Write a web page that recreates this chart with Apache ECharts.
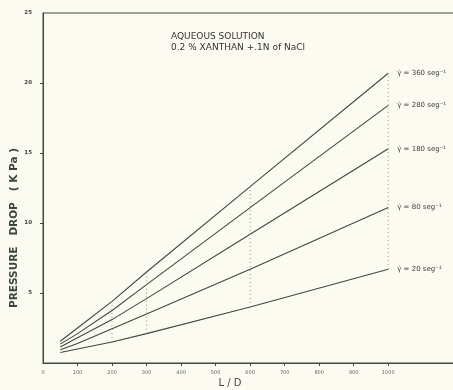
<!DOCTYPE html>
<html><head><meta charset="utf-8">
<script src="https://cdn.jsdelivr.net/npm/echarts@6/dist/echarts.min.js"></script>
<style>html,body{margin:0;padding:0;background:#fbfbf1;}#c{width:453px;height:390px;}</style>
</head><body><div id="c"></div>
<script>
var ldValues = [50, 100, 200, 300, 600, 1000];
var rate360 = [1.55, 2.5, 4.4, 6.5, 12.6, 20.7];
var rate280 = [1.35, 2.1, 3.75, 5.6, 11.1, 18.4];
var rate180 = [1.15, 1.8, 3.1, 4.6, 9.2, 15.3];
var rate80 = [0.95, 1.4, 2.45, 3.5, 6.7, 11.1];
var rate20 = [0.75, 1.0, 1.5, 2.1, 4.0, 6.7];
var seriesNames = ['γ̇ = 360 seg⁻¹', 'γ̇ = 280 seg⁻¹', 'γ̇ = 180 seg⁻¹', 'γ̇ = 80 seg⁻¹', 'γ̇ = 20 seg⁻¹'];
var dottedAt = [200, 300, 600, 1000];
var xTicks = [0, 100, 200, 300, 400, 500, 600, 700, 800, 900, 1000];
var yTicks = [5, 10, 15, 20, 25];

var allRates = [rate360, rate280, rate180, rate80, rate20];
var ink = '#3d4a3f';
var series = [];
allRates.forEach(function (arr, i) {
  series.push({
    type: 'line', name: seriesNames[i], symbol: 'none', silent: true,
    lineStyle: { color: ink, width: 1.1 },
    data: ldValues.map(function (x, j) { return [x, arr[j]]; }),
    endLabel: { show: true, formatter: seriesNames[i], distance: 9, fontSize: 7,
      color: '#444', fontFamily: 'DejaVu Sans' }
  });
});
dottedAt.forEach(function (x) {
  var j = ldValues.indexOf(x);
  var vals = allRates.map(function (a) { return a[j]; });
  series.push({
    type: 'line', symbol: 'none', silent: true,
    lineStyle: { color: '#8a948a', width: 1, type: [1, 3] },
    data: [[x, Math.min.apply(null, vals)], [x, Math.max.apply(null, vals)]]
  });
});

var xMaxTick = xTicks[xTicks.length - 1];
var chart = echarts.init(document.getElementById('c'), null, { renderer: 'canvas' });
chart.setOption({
  backgroundColor: '#fbfbf1',
  animation: false,
  grid: { left: 43, top: 13, right: -6, bottom: 27, show: true, borderColor: ink, borderWidth: 1,
    backgroundColor: 'transparent', containLabel: false, outerBoundsMode: 'none' },
  xAxis: {
    type: 'value', min: 0, max: 1205, interval: 100,
    splitLine: { show: false },
    axisLine: { show: true, lineStyle: { color: ink, width: 1 } },
    axisTick: { show: true, customValues: xTicks.slice(1), length: 3, lineStyle: { color: ink } },
    axisLabel: { fontSize: 5, color: '#666', margin: 7, fontFamily: 'DejaVu Sans', showMaxLabel: false,
      formatter: function (v) { return v > xMaxTick ? '' : String(v); } }
  },
  yAxis: {
    type: 'value', min: 0, max: 25, interval: 5,
    splitLine: { show: false },
    axisLine: { show: true, lineStyle: { color: ink, width: 1 } },
    axisTick: { show: true, customValues: [5, 10, 15, 20], length: 3, lineStyle: { color: ink } },
    axisLabel: { customValues: yTicks, fontSize: 5.5, fontWeight: 'bold', color: '#444', margin: 11, fontFamily: 'DejaVu Sans' }
  },
  graphic: [
    { type: 'text', left: 171, top: 32, style: { text: 'AQUEOUS SOLUTION', fontSize: 9, fill: '#333', fontFamily: 'DejaVu Sans' } },
    { type: 'text', left: 171, top: 43, style: { text: '0.2 % XANTHAN +.1N of NaCl', fontSize: 9, fill: '#333', fontFamily: 'DejaVu Sans' } },
    { type: 'text', x: 230, y: 383, style: { text: 'L / D', fontSize: 10, fill: '#444', align: 'center', verticalAlign: 'middle', fontFamily: 'DejaVu Sans' } },
    { type: 'text', x: 14, y: 228, rotation: Math.PI / 2,
      style: { text: 'PRESSURE   DROP   ( K Pa )', fontSize: 10.5, fontWeight: 'bold', fill: '#3a463c', align: 'center', verticalAlign: 'middle', fontFamily: 'DejaVu Sans' } }
  ],
  series: series
});
</script></body></html>
